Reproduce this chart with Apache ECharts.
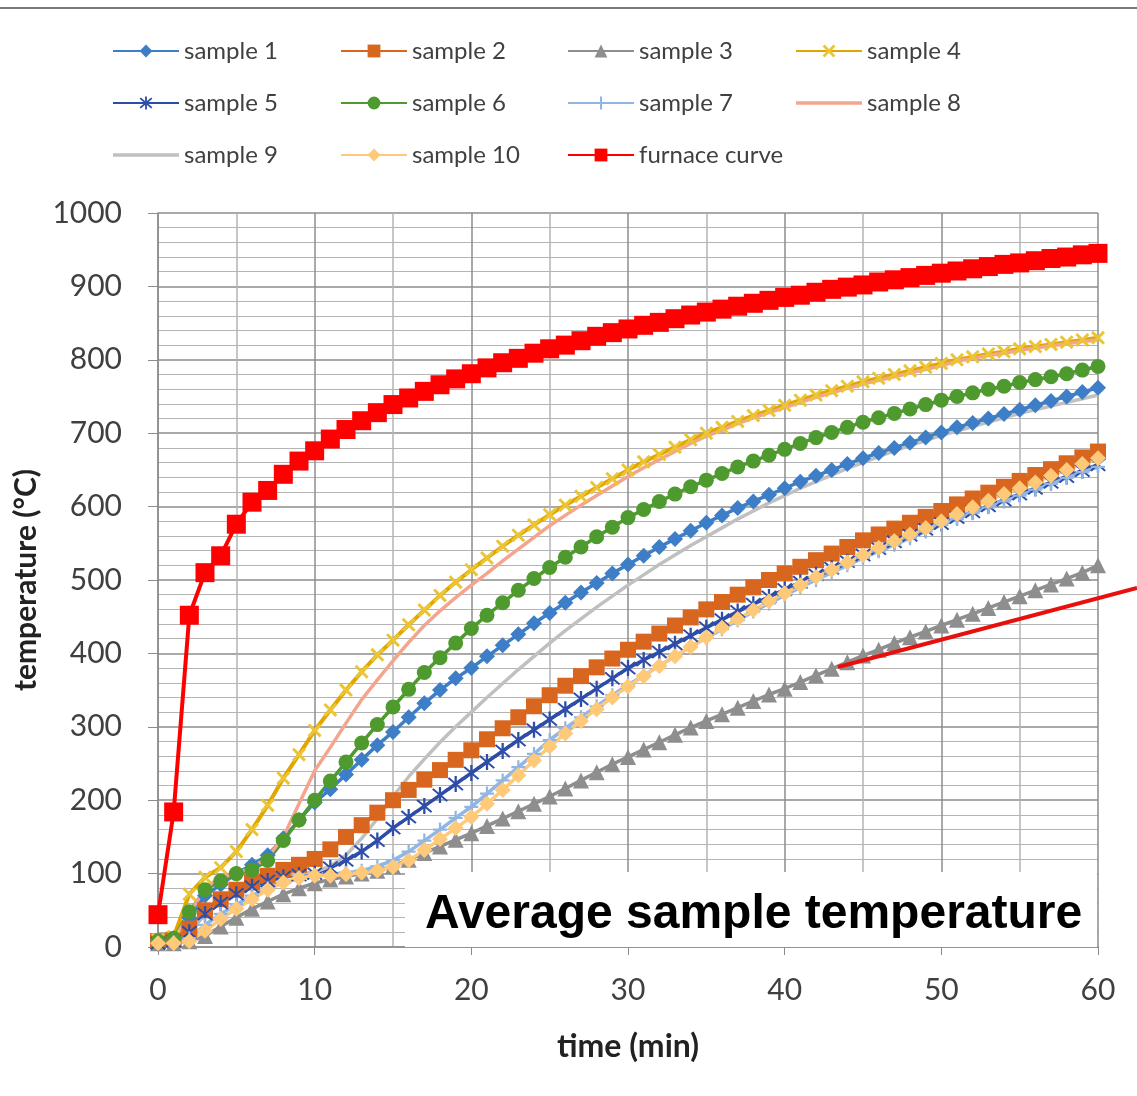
<!DOCTYPE html>
<html>
<head>
<meta charset="utf-8">
<title>sample temperature</title>
<script src="https://cdn.jsdelivr.net/npm/echarts@6/dist/echarts.min.js"></script>
<style>
    html, body { margin: 0; padding: 0; background: #fff; }
    #chart { width: 1137px; height: 1096px; }
</style>
</head>
<body>
<div id="chart"></div>
<script>
// time axis (min)
var minutes = [0,1,2,3,4,5,6,7,8,9,10,11,12,13,14,15,16,17,18,19,20,
    21,22,23,24,25,26,27,28,29,30,31,32,33,34,35,36,37,38,39,40,
    41,42,43,44,45,46,47,48,49,50,51,52,53,54,55,56,57,58,59,60];

var yTicks = [0, 100, 200, 300, 400, 500, 600, 700, 800, 900, 1000];
var xTicks = [0, 10, 20, 30, 40, 50, 60];

var sample1 = [8,12,40,70,85,100,112,125,148,173,197,
    215,235,255,275,293,313,332,350,366,380,
    396,411,426,441,455,469,483,496,509,521,
    533,545,556,567,578,588,598,607,616,625,
    634,642,650,658,666,673,680,687,694,701,
    708,714,720,726,732,738,744,750,756,762];
var sample2 = [8,10,25,50,65,78,88,97,105,112,120,
    133,150,166,183,200,214,228,241,255,268,
    283,298,313,328,343,356,369,381,393,405,
    416,427,438,449,460,470,480,490,500,509,
    518,527,536,545,554,562,570,578,586,594,
    603,611,619,627,635,643,651,659,667,675];
var sample3 = [5,5,8,15,28,40,52,62,72,80,87,
    92,96,100,104,110,119,128,137,146,155,
    165,175,185,195,205,216,227,238,249,259,
    269,279,289,299,308,317,326,335,344,352,
    361,370,379,388,397,405,414,422,430,438,
    446,454,462,470,478,486,494,502,510,520];
var sample4 = [10,14,72,95,108,130,160,193,230,262,295,
    323,350,375,398,418,439,459,479,497,514,
    530,546,561,575,589,602,614,626,638,650,
    661,671,681,691,700,708,716,724,731,738,
    745,752,758,764,770,775,780,785,790,795,
    800,804,808,811,815,818,821,824,827,830];
var sample5 = [5,8,20,45,60,72,82,90,95,98,100,
    108,118,130,145,162,177,192,207,222,237,
    252,267,282,296,310,324,338,352,366,380,
    391,402,413,424,435,446,457,467,477,487,
    497,507,516,525,534,543,552,561,569,577,
    585,593,601,609,617,625,633,641,649,657];
var sample6 = [8,12,48,78,90,100,105,118,145,173,200,
    226,252,278,303,327,351,374,394,414,434,
    452,469,486,502,517,531,545,559,572,585,
    596,607,617,627,636,645,654,662,670,678,
    686,694,701,708,715,721,727,733,739,745,
    750,755,760,764,769,773,777,781,786,791];
var sample7 = [5,6,12,30,45,58,70,80,88,93,97,
    99,101,104,110,118,130,145,160,176,191,
    209,227,245,263,282,298,313,328,343,357,
    370,383,396,409,421,433,445,457,468,479,
    490,500,510,520,530,539,548,557,566,575,
    583,591,599,607,615,623,631,639,647,654];
var sample8 = [8,10,45,80,95,100,108,122,150,195,240,
    272,305,337,364,390,415,438,458,476,493,
    509,526,542,558,574,588,602,615,628,641,
    653,664,675,686,696,704,713,721,728,735,
    742,749,755,761,767,772,777,782,787,792,
    798,802,806,809,813,816,819,822,825,827];
var sample9 = [8,10,20,45,65,80,88,95,98,100,102,
    110,125,148,175,205,232,256,279,300,320,
    340,359,378,396,414,431,447,463,478,493,
    507,521,534,547,559,571,583,594,605,615,
    625,634,643,652,660,668,676,683,690,697,
    703,709,715,721,727,732,737,742,747,752];
var sample10 = [5,5,8,22,38,52,65,78,88,94,97,
    97,99,101,104,109,118,132,147,162,177,
    195,214,234,254,273,291,308,324,340,355,
    369,383,396,409,422,435,447,459,471,482,
    493,504,514,524,534,544,553,562,571,580,
    590,599,608,617,625,633,642,650,658,666];
var furnace = [44,184,452,510,533,576,606,622,644,662,676,
    692,705,717,728,739,748,757,766,774,781,
    789,796,802,809,815,820,826,832,837,842,
    847,851,856,861,865,869,873,877,881,885,
    888,892,896,899,902,906,909,912,915,918,
    921,924,927,930,932,935,938,940,943,945];

// marker shapes Excel uses that echarts doesn't have
var xMark = 'path://M0,1.5L1.5,0L10,8.5L8.5,10Z M8.5,0L10,1.5L1.5,10L0,8.5Z';
var plusMark = 'path://M4.2,0H5.8V10H4.2Z M0,4.2H10V5.8H0Z';
var starMark = 'path://M4.4,0H5.6V10H4.4Z M0.8,1.6L1.6,0.8L9.2,8.4L8.4,9.2Z M8.4,0.8L9.2,1.6L1.6,9.2L0.8,8.4Z';
// plain line for legend of marker-less series (tiny corner dots keep the box 66x16)
var lineOnly = 'path://M0,0L0.01,0L0,0.01Z M66,16L65.99,16L66,15.99Z M0,6.2H66V9.8H0Z';

function pairs(arr) {
    var out = [];
    for (var i = 0; i < arr.length; i++) {
        out.push([minutes[i], arr[i]]);
    }
    return out;
}

function mkSeries(name, data, color, symbol, size, width, markColor) {
    return {
        name: name,
        type: 'line',
        data: pairs(data),
        symbol: symbol,
        symbolSize: size,
        showSymbol: symbol !== 'none',
        lineStyle: { color: color, width: width },
        itemStyle: { color: markColor || color },
        emphasis: { disabled: true }
    };
}

function legendCol(left, names) {
    return {
        orient: 'vertical',
        left: left,
        top: 39,
        padding: 0,
        itemGap: 28,
        itemWidth: 66,
        itemHeight: 16,
        data: names,
        textStyle: { fontFamily: 'Lato', fontSize: 24, color: '#404040' }
    };
}

function myChartTemp() {
    var dom = document.getElementById('chart');
    var myChart = echarts.init(dom, null, { renderer: 'canvas' });
    var option = {
        animation: false,
        backgroundColor: '#fff',
        legend: [
            legendCol(112, ['sample 1', 'sample 5', { name: 'sample 9', icon: lineOnly }]),
            legendCol(340, ['sample 2', 'sample 6', 'sample 10']),
            legendCol(567, ['sample 3', 'sample 7', 'furnace curve']),
            legendCol(795, ['sample 4', { name: 'sample 8', icon: lineOnly }])
        ],
        grid: { left: 158, right: 39, top: 213, bottom: 149 },
        xAxis: {
            type: 'value',
            min: xTicks[0],
            max: xTicks[xTicks.length - 1],
            interval: 10,
            name: 'time (min)',
            nameLocation: 'middle',
            nameGap: 84,
            nameTextStyle: { fontFamily: 'Lato', fontWeight: 'bold', fontSize: 32, color: '#222' },
            axisLine: { lineStyle: { color: '#8c8c8c', width: 1.5 } },
            axisTick: { show: true, length: 8, lineStyle: { color: '#8c8c8c' } },
            axisLabel: { margin: 28, fontFamily: 'Lato', fontSize: 30, color: '#404040' },
            splitLine: { show: true, lineStyle: { color: '#8c8c8c', width: 1.5 } },
            minorTick: { show: false, splitNumber: 2 },
            minorSplitLine: { show: true, lineStyle: { color: '#b4b4b4', width: 1.5 } }
        },
        yAxis: {
            type: 'value',
            min: yTicks[0],
            max: yTicks[yTicks.length - 1],
            interval: 100,
            name: 'temperature (°C)',
            nameLocation: 'middle',
            nameGap: 114,
            nameTextStyle: { fontFamily: 'Lato', fontWeight: 'bold', fontSize: 30, color: '#222' },
            axisLine: { show: true, lineStyle: { color: '#8c8c8c', width: 1.5 } },
            axisTick: { show: true, length: 10, lineStyle: { color: '#8c8c8c' } },
            axisLabel: {
                margin: 36, fontFamily: 'Lato', fontSize: 30, color: '#404040',
                formatter: function (v) { return String(v); }
            },
            splitLine: { show: true, lineStyle: { color: '#8c8c8c', width: 1.5 } },
            minorTick: { show: false, splitNumber: 5 },
            minorSplitLine: { show: true, lineStyle: { color: '#b4b4b4', width: 1.2 } }
        },
        series: [
            mkSeries('sample 1', sample1, '#3D7EC6', 'diamond', 16, 3.5),
            mkSeries('sample 2', sample2, '#D8661F', 'rect', 16, 3.5),
            mkSeries('sample 3', sample3, '#8E8E8E', 'triangle', 16, 3.5),
            mkSeries('sample 4', sample4, '#E2A600', xMark, 14, 4, '#EBC534'),
            mkSeries('sample 5', sample5, '#2E4DA8', starMark, 16, 3.5),
            mkSeries('sample 6', sample6, '#4E9A2F', 'circle', 15, 3.5),
            mkSeries('sample 7', sample7, '#92B6E4', plusMark, 14, 3.5),
            mkSeries('sample 8', sample8, '#F3A58E', 'none', 0, 3.5),
            mkSeries('sample 9', sample9, '#C0C0C0', 'none', 0, 3.5),
            mkSeries('sample 10', sample10, '#FFC97A', 'diamond', 16, 3.5),
            mkSeries('furnace curve', furnace, '#FF0000', 'rect', 19, 4)
        ],
        graphic: [
            {   // top border
                type: 'line', z: 100,
                shape: { x1: 0, y1: 8, x2: 1137, y2: 8 },
                style: { stroke: '#7a7a7a', lineWidth: 2 }
            },
            {   // annotation box
                type: 'rect', z: 100,
                shape: { x: 405, y: 872, width: 692, height: 75 },
                style: { fill: '#fff' }
            },
            {
                type: 'text', z: 101,
                x: 425, y: 915,
                style: {
                    text: 'Average sample temperature',
                    font: 'bold 48px "Liberation Sans", Arial, sans-serif',
                    fill: '#000',
                    verticalAlign: 'middle'
                }
            },
            {
                type: 'line', z: 101,
                shape: { x1: 838, y1: 667, x2: 1137, y2: 588 },
                style: { stroke: '#E8100C', lineWidth: 4 }
            }
        ]
    };
    if (option && typeof option === 'object') {
        myChart.setOption(option, true);
    }
}

myChartTemp();
</script>
</body>
</html>
